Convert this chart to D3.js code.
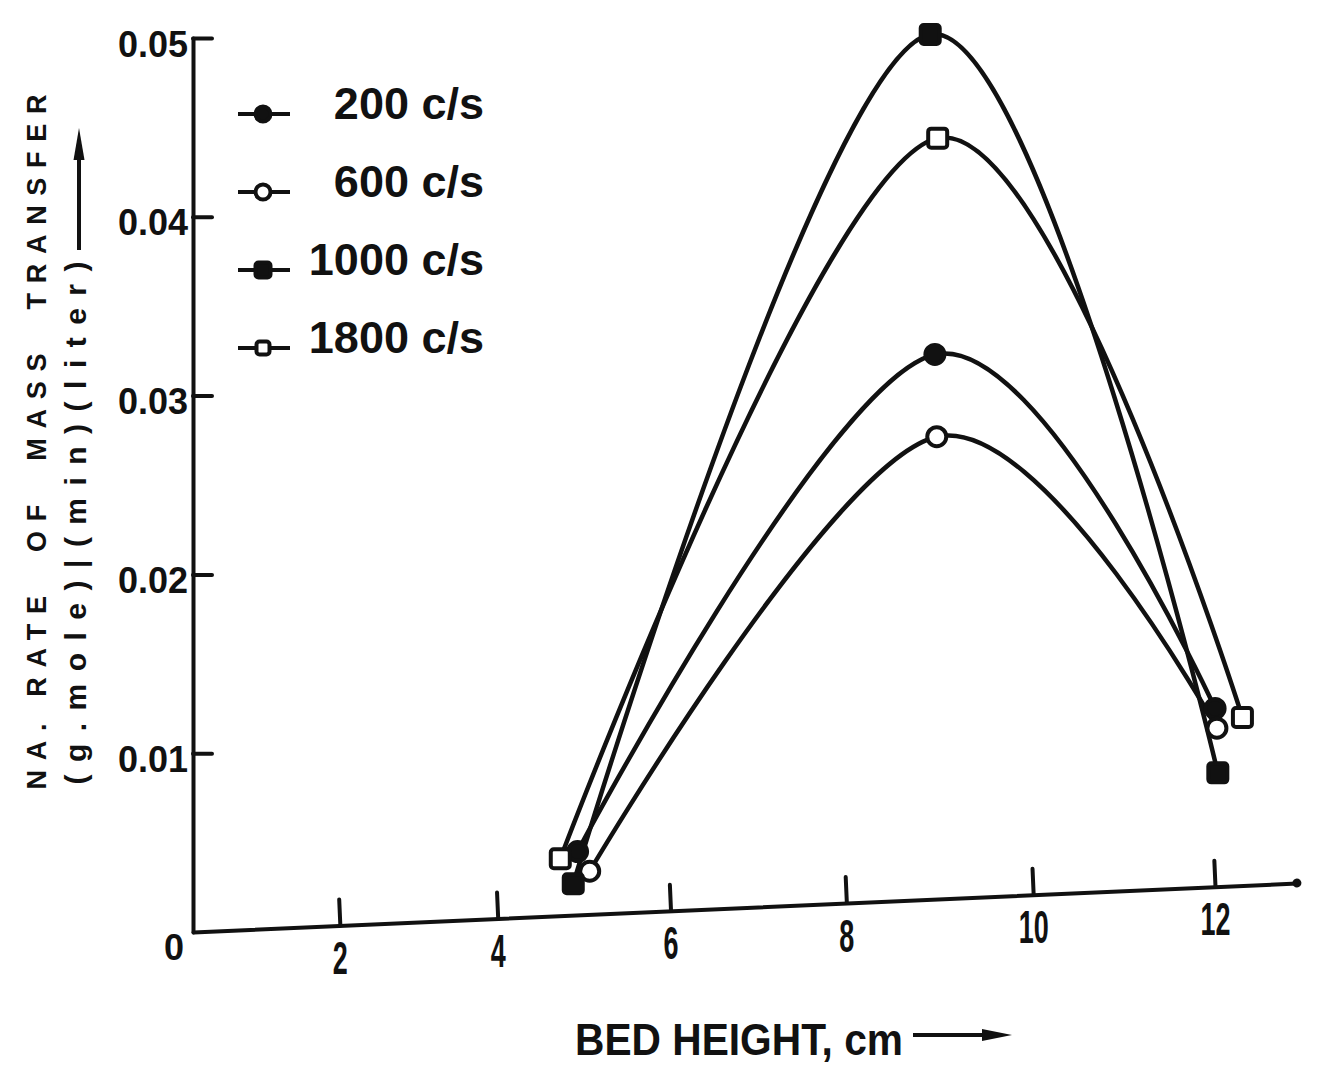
<!DOCTYPE html>
<html>
<head>
<meta charset="utf-8">
<script src="https://cdn.jsdelivr.net/npm/d3@7"></script>
<style>
	body { margin: 0; background: #fff; }
	svg { display: block; }
	text { fill: #111; font-family: 'Liberation Sans', Arial, sans-serif; }
</style>
</head>
<body>
<svg id="chart" width="1323" height="1065"></svg>
<script>
// Values: bed height (cm) vs rate of mass transfer.
const frequencies = ['200 c/s', '600 c/s', '1000 c/s', '1800 c/s'];

const height200 = [4.92, 8.94, 11.99];
const rate200 = [0.0045, 0.0323, 0.0125];

const height600 = [5.06, 8.96, 12.01];
const rate600 = [0.0034, 0.0277, 0.0114];

const height1000 = [4.87, 8.89, 12.02];
const rate1000 = [0.0027, 0.0502, 0.0089];

const height1800 = [4.72, 8.97, 12.29];
const rate1800 = [0.0041, 0.0444, 0.012];

const xTicks = [2, 4, 6, 8, 10, 12];
const yTicks = [0, 0.01, 0.02, 0.03, 0.04, 0.05];

const seriesData = [
	{ name: frequencies[0], points: d3.zip(height200, rate200) },
	{ name: frequencies[1], points: d3.zip(height600, rate600) },
	{ name: frequencies[2], points: d3.zip(height1000, rate1000) },
	{ name: frequencies[3], points: d3.zip(height1800, rate1800) },
];

// Marker per frequency, as in the printed legend.
const markerType = {
	'200 c/s': 'filledCircle',
	'600 c/s': 'openCircle',
	'1000 c/s': 'filledSquare',
	'1800 c/s': 'openSquare',
};

const ink = '#111';
const svg = d3.select('#chart');

// The axis was drawn by hand, tick spacing is uneven: polylinear scale.
const x = d3.scaleLinear()
	.domain([0, 2, 4, 6, 8, 10, 12, 12.9])
	.range([193, 340, 498, 671, 847, 1034, 1216, 1298]);

const y = d3.scaleLinear().domain([0, 0.05]).range([932, 38]);

// X axis leans upward to the right on the scan.
const tilt = (Math.atan2(-49, 1105) * 180) / Math.PI;

const xAxisG = svg
	.append('g')
	.attr('transform', `translate(0,${y(0)}) rotate(${tilt},${x(0)},0)`)
	.call(d3.axisBottom(x).tickValues(xTicks).tickSizeInner(-26).tickSizeOuter(0).tickPadding(16));

xAxisG.append('circle').attr('cx', x(12.9)).attr('cy', 0).attr('r', 4.5).attr('fill', ink);

xAxisG
	.selectAll('.tick text')
	.attr('transform', `rotate(${-tilt})`)
	.attr('font-size', 46)
	.attr('font-weight', 'bold')
	.attr('textLength', d => String(d).length * 15)
	.attr('lengthAdjust', 'spacingAndGlyphs');

const yAxisG = svg
	.append('g')
	.attr('transform', `translate(${x(0)},0)`)
	.call(
		d3.axisLeft(y)
			.tickValues(yTicks)
			.tickSizeInner(-19)
			.tickSizeOuter(0)
			.tickPadding(5)
			.tickFormat(d => (d === 0 ? '0' : d3.format('.2f')(d))),
	);

yAxisG
	.selectAll('.tick text')
	.attr('font-size', 36)
	.attr('font-weight', 'bold')
	.attr('dy', d => (d === 0 ? '0.75em' : '0.5em'))
	.attr('x', d => (d === 0 ? -9 : -5));

yAxisG.selectAll('.tick line').filter(d => d === 0).remove();

svg.selectAll('.domain, .tick line')
	.attr('stroke', ink)
	.attr('stroke-width', 4)
	.attr('stroke-linecap', 'round');

svg.selectAll('.tick text').attr('fill', ink);

// Smooth hand-drawn curves through each series.
const line = d3
	.line()
	.x(d => x(d[0]))
	.y(d => y(d[1]))
	.curve(d3.curveCardinal.tension(0));

svg.append('g')
	.selectAll('path')
	.data(seriesData)
	.join('path')
	.attr('d', d => line(d.points))
	.attr('fill', 'none')
	.attr('stroke', ink)
	.attr('stroke-width', 4.5);

/**
 * Append a marker shape centred on the group origin.
 * @param {d3.Selection} g
 * @param {string} type
 * @param {number} size
 */
function drawMarker(g, type, size) {
	const filled = type.startsWith('filled');
	const shape = type.endsWith('Circle')
		? g.append('circle').attr('r', size / 2)
		: g.append('rect')
				.attr('x', -size / 2)
				.attr('y', -size / 2)
				.attr('width', size)
				.attr('height', size)
				.attr('rx', 3);

	shape.attr('fill', filled ? ink : '#fff').attr('stroke', ink).attr('stroke-width', 4);
}

seriesData.forEach(s => {
	svg.append('g')
		.selectAll('g')
		.data(s.points)
		.join('g')
		.attr('transform', d => `translate(${x(d[0])},${y(d[1])})`)
		.each(function () {
			drawMarker(d3.select(this), markerType[s.name], 19);
		});
});

// Legend.
const legend = svg
	.append('g')
	.selectAll('g')
	.data(frequencies)
	.join('g')
	.attr('transform', (d, i) => `translate(0,${114 + i * 78})`);

legend
	.append('line')
	.attr('x1', 238)
	.attr('x2', 290)
	.attr('stroke', ink)
	.attr('stroke-width', 4);

legend.each(function (d) {
	const g = d3.select(this).append('g').attr('transform', 'translate(263,0)');
	drawMarker(g, markerType[d], markerType[d] === 'openSquare' ? 13 : 15);
});

legend
	.append('text')
	.attr('x', 484)
	.attr('y', 5)
	.attr('text-anchor', 'end')
	.attr('font-size', 45)
	.attr('font-weight', 'bold')
	.text(d => d);

// Axis titles.
svg.append('text')
	.attr('transform', 'translate(46,442) rotate(-90)')
	.attr('text-anchor', 'middle')
	.attr('font-size', 27)
	.attr('font-weight', 'bold')
	.attr('textLength', 695)
	.attr('lengthAdjust', 'spacing')
	.style('white-space', 'pre')
	.text('NA. RATE  OF  MASS  TRANSFER');

svg.append('text')
	.attr('transform', 'translate(86,523) rotate(-90)')
	.attr('text-anchor', 'middle')
	.attr('font-size', 30)
	.attr('font-weight', 'bold')
	.attr('textLength', 523)
	.attr('lengthAdjust', 'spacing')
	.text('(g.mole)|(min)(liter)');

svg.append('line')
	.attr('x1', 79)
	.attr('y1', 250)
	.attr('x2', 79)
	.attr('y2', 150)
	.attr('stroke', ink)
	.attr('stroke-width', 4);

svg.append('path').attr('d', 'M79,128 L73.5,160 L84.5,160 Z').attr('fill', ink);

svg.append('text')
	.attr('x', 575)
	.attr('y', 1055)
	.attr('font-size', 44)
	.attr('font-weight', 'bold')
	.attr('textLength', 328)
	.attr('lengthAdjust', 'spacingAndGlyphs')
	.text('BED HEIGHT, cm');

svg.append('line')
	.attr('x1', 913)
	.attr('y1', 1035)
	.attr('x2', 990)
	.attr('y2', 1035)
	.attr('stroke', ink)
	.attr('stroke-width', 4);

svg.append('path').attr('d', 'M1012,1035 L982,1029 L982,1041 Z').attr('fill', ink);
</script>
</body>
</html>
